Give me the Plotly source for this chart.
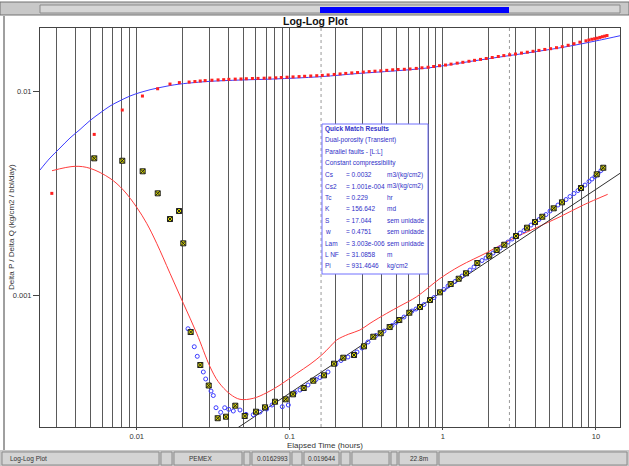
import plotly.graph_objects as go

# ---------------- data ----------------
# measured pressure-change points (red dots)
red_t = [0.00279, 0.00528, 0.00805, 0.0109, 0.0137, 0.0165, 0.019,
         0.022, 0.024, 0.026, 0.028, 0.031, 0.034, 0.037, 0.04,
         0.044, 0.048, 0.052, 0.057, 0.062, 0.068, 0.074, 0.081, 0.088, 0.096,
         0.105, 0.115, 0.125, 0.137, 0.15, 0.163, 0.178, 0.195, 0.213, 0.232,
         0.254, 0.277, 0.302, 0.33, 0.36, 0.393, 0.43, 0.47, 0.51, 0.56,
         0.61, 0.67, 0.73, 0.8, 0.87, 0.95, 1.04, 1.13, 1.24, 1.35,
         1.48, 1.61, 1.76, 1.92, 2.1, 2.3, 2.5, 2.73, 2.98, 3.26,
         3.56, 3.88, 4.24, 4.63, 5.05, 5.52, 6.02, 6.58, 7.18, 7.85,
         8.6, 9.0, 9.4, 9.8, 10.2, 10.6, 11.0, 11.4, 11.8]
red_dp = [0.00315, 0.00613, 0.00807, 0.00945, 0.01026, 0.01082, 0.01100,
          0.01107, 0.01113, 0.0112, 0.01125, 0.0113, 0.01134, 0.01137, 0.01141,
          0.01144, 0.01146, 0.01149, 0.01152, 0.01153, 0.01156, 0.01158, 0.01161, 0.01165, 0.01169,
          0.01173, 0.01177, 0.01181, 0.01185, 0.01189, 0.01193, 0.01199, 0.01206, 0.01213, 0.0122,
          0.01227, 0.01232, 0.01239, 0.01245, 0.01251, 0.01256, 0.01263, 0.01271, 0.01275, 0.01278,
          0.01283, 0.01291, 0.013, 0.01308, 0.01319, 0.01331, 0.01341, 0.01355, 0.0137, 0.01383,
          0.01399, 0.01414, 0.01429, 0.01444, 0.0146, 0.01477, 0.01492, 0.01505, 0.01519, 0.01535,
          0.0155, 0.01566, 0.01582, 0.01599, 0.01613, 0.01631, 0.0165, 0.01676, 0.01706, 0.01736,
          0.01763, 0.0178, 0.01794, 0.01804, 0.01816, 0.01831, 0.01846, 0.01858, 0.01871]

# derivative points (yellow squares)
der_t = [0.005284, 0.008052, 0.01094, 0.01372, 0.0165, 0.0189, 0.02016, 0.02253, 0.02603, 0.02954,
         0.03381, 0.03831, 0.04406, 0.05074, 0.06016, 0.06887, 0.08006, 0.09401, 0.105, 0.1233,
         0.1424, 0.1673, 0.1944, 0.2236, 0.2627, 0.3053, 0.3511, 0.3925, 0.4492, 0.5189,
         0.6033, 0.7087, 0.8237, 0.9574, 1.1246, 1.268, 1.4154, 1.6777, 2.0097, 2.246,
         2.518, 3.002, 3.542, 3.996, 4.46, 5.293, 5.998, 7.98, 10.11, 11.16]
der_v = [0.004678, 0.004553, 0.004041, 0.003151, 0.002358, 0.002581, 0.001792, 0.0006586, 0.0004539, 0.00036,
         0.0002489, 0.0002532, 0.0002867, 0.0002552, 0.0002679, 0.0002815, 0.0002999, 0.0003081, 0.000326, 0.00035,
         0.0003801, 0.000404, 0.0004606, 0.0004927, 0.000508, 0.0005603, 0.0006245, 0.0006492, 0.0006967, 0.000754,
         0.0008188, 0.0008733, 0.0009451, 0.001031, 0.001132, 0.001202, 0.001278, 0.001435, 0.001558, 0.001662,
         0.001764, 0.001947, 0.002138, 0.002279, 0.002419, 0.002661, 0.002847, 0.003346, 0.003905, 0.004207]

# smoothed derivative points (blue open circles)
sder_t = [0.02163, 0.02377, 0.02487, 0.02723, 0.02823, 0.03058, 0.03165, 0.03296, 0.03537, 0.03756,
          0.03991, 0.04276, 0.04728, 0.05175, 0.05775, 0.06388, 0.07064, 0.07652, 0.08933, 0.09777,
          0.1081, 0.1166, 0.1315, 0.1483, 0.1575, 0.1776, 0.2003, 0.216, 0.2399, 0.2747,
          0.2962, 0.3242, 0.3656, 0.4124, 0.4651, 0.494, 0.557, 0.6284, 0.6672, 0.7525,
          0.8747, 1.0167, 1.0797, 1.1995, 1.3332, 1.5031, 1.5961, 1.8002, 1.9117, 2.1243,
          2.3605, 2.6618, 2.8275, 3.1885, 3.3858, 3.7627, 4.2428, 4.7131, 5.0072, 5.6454,
          6.3695, 6.7635, 7.1818, 7.6262, 8.4775, 9.0017, 9.417, 9.8515, 10.306, 10.781]
sder_v = [0.0006836, 0.0005579, 0.0005006, 0.0004195, 0.0003876, 0.0003383, 0.0003216, 0.0002802, 0.000266, 0.0002802,
          0.0002752, 0.00027, 0.0002731, 0.00026, 0.0002589, 0.0002669, 0.0002761, 0.0002889, 0.0002835, 0.0002889,
          0.0003326, 0.0003421, 0.0003621, 0.0003853, 0.0003941, 0.0004195, 0.000459, 0.0004775, 0.0004967, 0.0005256,
          0.0005498, 0.0005884, 0.0006331, 0.0006661, 0.0007088, 0.0007332, 0.0007801, 0.0008347, 0.0008538, 0.0008983,
          0.0009721, 0.001064, 0.001107, 0.001165, 0.001239, 0.001326, 0.001372, 0.001476, 0.001518, 0.001606,
          0.001699, 0.001819, 0.001881, 0.002013, 0.00207, 0.002203, 0.002344, 0.00248, 0.002581, 0.002762,
          0.002938, 0.00304, 0.003145, 0.003253, 0.00346, 0.0036, 0.003704, 0.00381, 0.003942, 0.004077]

# model pressure curve (blue line)
mp_t = [0.002335, 0.002715, 0.003155, 0.003667, 0.004262, 0.004954, 0.005759, 0.006693, 0.00778, 0.009042,
        0.01051, 0.01222, 0.0142, 0.0165, 0.01918, 0.02403, 0.03012, 0.04728, 0.07767, 0.1575,
        0.2873, 0.4721, 0.8237, 1.503, 2.744, 6.089, 10.15, 14.35]
mp_v = [0.004101, 0.004694, 0.005255, 0.005885, 0.006477, 0.007166, 0.0078, 0.008442, 0.008963, 0.009452,
        0.009832, 0.010148, 0.010403, 0.01064, 0.010822, 0.011008, 0.011157, 0.011322, 0.011451, 0.011752,
        0.012212, 0.012534, 0.01301, 0.013966, 0.014934, 0.016382, 0.01765, 0.018666]

# model derivative curve (red line)
md_t = [0.002797, 0.003954, 0.004955, 0.006693, 0.008177, 0.01, 0.01162, 0.01351, 0.0165, 0.02016,
        0.02465, 0.03012, 0.03412, 0.04068, 0.04728, 0.05775, 0.07064, 0.0863, 0.111, 0.1355,
        0.1616, 0.1831, 0.2024, 0.241, 0.2873, 0.3341, 0.4295, 0.5245, 0.6744, 0.9574,
        1.2932, 1.932, 2.744, 3.996, 5.819, 8.263, 11.92]
md_v = [0.004068, 0.004275, 0.00418, 0.003733, 0.003271, 0.002691, 0.002246, 0.001792, 0.001278, 0.000911,
        0.0006492, 0.0004452, 0.0003758, 0.0003271, 0.0003081, 0.0003116, 0.0003319, 0.0003621, 0.0004131, 0.0004574,
        0.000508, 0.0005579, 0.0006018, 0.0006419, 0.0006737, 0.0007265, 0.000813, 0.0008834, 0.0009811, 0.001205,
        0.001388, 0.001612, 0.00186, 0.002123, 0.002419, 0.002762, 0.003116]

# half-slope straight line
hs_t = [0.04, 14.35]
hs_v = [0.000209, 0.00395]

# dotted markers (vertical)
marker_t = [0.16, 2.72]

x_ticks = [0.01, 0.1, 1, 10]
x_ticktext = ["0.01", "0.1", "1", "10"]
y_ticks = [0.001, 0.01]
y_ticktext = ["0.001", "0.01"]
x_minor = [m * 10 ** k for k in range(-3, 2) for m in range(2, 10)]

qm_header = ["Quick Match Results", "Dual-porosity (Transient)",
             "Parallel faults - [L:L]", "Constant compressibility"]
qm_names = ["Cs", "Cs2", "Tc", "K", "S", "w", "Lam", "L NF", "Pi"]
qm_values = ["0.0032", "1.001e-004", "0.229", "156.642", "17.044",
             "0.4751", "3.003e-006", "31.0858", "931.4646"]
qm_units = ["m3/(kg/cm2)", "m3/(kg/cm2)", "hr", "md", "sem unidade",
            "sem unidade", "sem unidade", "m", "kg/cm2"]

status_texts = ["Log-Log Plot", "PEMEX", "0.0162993", "0.019644", "22.8m"]

# ---------------- figure ----------------
W, H = 629, 466
L, R, T, B = 40, 620, 28, 427
FONT = "Liberation Sans, Arial"


def fx(p):
    return (p - L) / (R - L)


def fy(p):
    return (B - p) / (B - T)


fig = go.Figure()

for t in marker_t:
    fig.add_trace(go.Scatter(x=[t, t], y=[1e-4, 0.05], mode="lines",
                             line=dict(color="#9a9a9a", width=1, dash="dot"),
                             hoverinfo="skip", showlegend=False))

fig.add_trace(go.Scatter(x=mp_t, y=mp_v, mode="lines", line=dict(color="#3c3cff", width=1, shape="spline"),
                         showlegend=False))
fig.add_trace(go.Scatter(x=md_t, y=md_v, mode="lines", line=dict(color="#ff3c3c", width=1, shape="spline"),
                         showlegend=False))
fig.add_trace(go.Scatter(x=hs_t, y=hs_v, mode="lines", line=dict(color="#303030", width=1),
                         showlegend=False))
fig.add_trace(go.Scatter(x=sder_t, y=sder_v, mode="markers",
                         marker=dict(symbol="circle-open", size=4, color="#3c3cff", line=dict(width=1)),
                         showlegend=False))
fig.add_trace(go.Scatter(x=der_t, y=der_v, mode="markers",
                         marker=dict(symbol="square-x", size=5, color="#d8d800",
                                     line=dict(color="#202020", width=1)),
                         showlegend=False))
fig.add_trace(go.Scatter(x=red_t, y=red_dp, mode="markers",
                         marker=dict(symbol="square", size=3, color="#ff2020", line=dict(width=0)),
                         showlegend=False))

shapes = []
ann = []

# top scroll bar
shapes.append(dict(type="rect", xref="paper", yref="paper", x0=fx(0), x1=fx(629), y0=fy(15), y1=fy(2),
                   fillcolor="#c8c8c8", line=dict(color="#707070", width=1), layer="above"))
shapes.append(dict(type="rect", xref="paper", yref="paper", x0=fx(40), x1=fx(620), y0=fy(13), y1=fy(5),
                   fillcolor="#d6d6d6", line=dict(color="#8a8a8a", width=1), layer="above"))
shapes.append(dict(type="rect", xref="paper", yref="paper", x0=fx(320), x1=fx(509), y0=fy(13), y1=fy(7),
                   fillcolor="#0000ff", line=dict(width=0), layer="above"))
# left frame line
shapes.append(dict(type="line", xref="paper", yref="paper", x0=fx(4), x1=fx(4), y0=fy(450), y1=fy(16),
                   line=dict(color="#404040", width=1), layer="above"))

# Quick match box
bx0, bx1, by0, by1 = 322, 428, 124, 274
shapes.append(dict(type="rect", xref="paper", yref="paper", x0=fx(bx0), x1=fx(bx1), y0=fy(by1), y1=fy(by0),
                   fillcolor="white", line=dict(color="#7070ff", width=1), layer="above"))
txtcol = "#3030c8"
row_y = 129
for i, h in enumerate(qm_header):
    ann.append(dict(xref="paper", yref="paper", x=fx(323), y=fy(row_y + i * 11.4),
                    text=("<b>%s</b>" % h if i == 0 else h),
                    showarrow=False, xanchor="left", yanchor="middle",
                    font=dict(family=FONT, size=6.5, color=txtcol)))
for j, (n, v, u) in enumerate(zip(qm_names, qm_values, qm_units)):
    yy = fy(row_y + (j + 4) * 11.4)
    for xpos, s in ((323, n), (344, "= " + v), (385, u)):
        ann.append(dict(xref="paper", yref="paper", x=fx(xpos), y=yy, text=s, showarrow=False,
                        xanchor="left", yanchor="middle",
                        font=dict(family=FONT, size=6.5, color=txtcol)))

# status bar
shapes.append(dict(type="rect", xref="paper", yref="paper", x0=fx(0), x1=fx(629), y0=fy(466), y1=fy(450),
                   fillcolor="#c8c8c8", line=dict(width=0), layer="above"))
panels = [(2, 159), (161, 172), (174, 242), (244, 250), (252, 290), (292, 302), (304, 339),
          (341, 350), (352, 389), (391, 397), (399, 437), (439, 627)]
for a, b in panels:
    shapes.append(dict(type="rect", xref="paper", yref="paper", x0=fx(a), x1=fx(b), y0=fy(465), y1=fy(452),
                       fillcolor="#d4d4d4", line=dict(color="#8c8c8c", width=1), layer="above"))
status_x = [8, 187, 255, 306, 408]
for sx, s in zip(status_x, status_texts):
    ann.append(dict(xref="paper", yref="paper", x=fx(sx), y=fy(458.5), text=s, showarrow=False,
                    xanchor="left", yanchor="middle",
                    font=dict(family=FONT, size=6.5, color="#333333")))

# titles
ann.append(dict(xref="paper", yref="paper", x=fx(315), y=fy(21), text="<b>Log-Log Plot</b>", showarrow=False,
                xanchor="center", yanchor="middle", font=dict(family=FONT, size=10.5, color="#111")))
ann.append(dict(xref="paper", yref="paper", x=fx(325), y=fy(445.5), text="Elapsed Time (hours)", showarrow=False,
                xanchor="center", yanchor="middle", font=dict(family=FONT, size=8, color="#333")))
ann.append(dict(xref="paper", yref="paper", x=fx(11), y=fy(227), text="Delta P / Delta Q (kg/cm2 / bbl/day)",
                showarrow=False, textangle=-90, xanchor="center", yanchor="middle",
                font=dict(family=FONT, size=8, color="#333")))

fig.update_layout(
    width=W, height=H,
    margin=dict(l=L, r=W - R, t=T, b=H - B, pad=0),
    paper_bgcolor="white", plot_bgcolor="white",
    showlegend=False,
    shapes=shapes, annotations=ann,
    xaxis=dict(type="log", range=[-2.6316, 1.1568], tickmode="array", tickvals=x_ticks, ticktext=x_ticktext,
               showgrid=True, gridcolor="#5a5a5a", gridwidth=1, ticks="outside", ticklen=2, tickcolor="#444",
               showline=True, linecolor="#444", mirror=True, zeroline=False,
               minor=dict(tickmode="array", tickvals=x_minor, showgrid=True, gridcolor="#5a5a5a", ticks=""),
               tickfont=dict(family=FONT, size=7.5, color="#333")),
    yaxis=dict(type="log", range=[-3.647, -1.691], tickmode="array", tickvals=y_ticks, ticktext=y_ticktext,
               showgrid=False, ticks="outside", ticklen=6, tickcolor="#444",
               showline=True, linecolor="#444", mirror=True, zeroline=False,
               tickfont=dict(family=FONT, size=7.5, color="#333")),
)

fig.write_html("out.html", config={"displayModeBar": False},
               post_script="document.body.style.margin='0';document.body.style.overflow='hidden';")
